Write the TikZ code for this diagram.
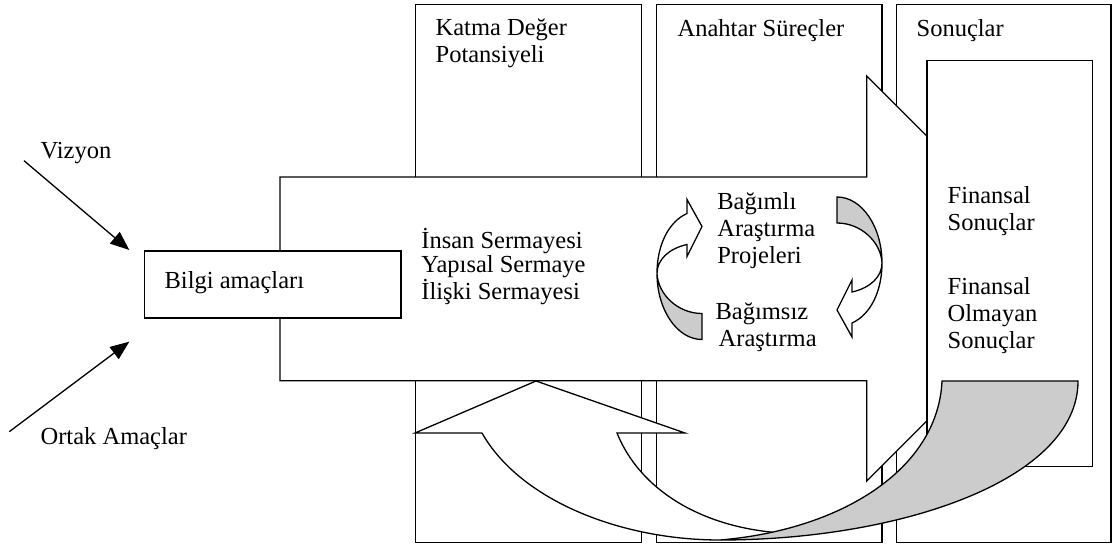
\documentclass[tikz,border=0pt]{standalone}
\usepackage{fontspec}
\setmainfont{Liberation Serif}
\usetikzlibrary{arrows.meta}
\definecolor{bandgray}{RGB}{204,204,204}
\begin{document}
\begin{tikzpicture}[x=1pt,y=-1pt,line width=1.3pt,line join=miter,
  box/.style={draw=black,fill=white,inner sep=0pt,outer sep=0pt,anchor=north west},
  lbl/.style={anchor=base west,inner sep=0pt,align=left,font=\fontsize{24.5}{27}\selectfont},
  feed/.style={-{Triangle[length=19pt,width=15pt]}},
  shade/.style={draw=black,fill=bandgray},
  plain/.style={draw=black,fill=white}]
\useasboundingbox (0,0) rectangle (1114,546);

% columns
\node[box,minimum width=226pt,minimum height=538pt] (col1) at (415.7,4.7) {};
\node[box,minimum width=225.3pt,minimum height=538pt] (col2) at (656.7,4.7) {};
\node[box,minimum width=214.3pt,minimum height=538pt] (col3) at (896.7,4.7) {};

% big arrow
\draw[plain] (280,177) -- (866.7,177) -- (866.7,76) -- (1069.5,278.5) -- (866.7,481)
  -- (866.7,380.7) -- (280,380.7) -- cycle;

% Bilgi box
\node[box,minimum width=256.7pt,minimum height=67pt] (bilgi) at (144.3,251) {};

% inner results box
\node[box,minimum width=165.3pt,minimum height=406pt] (inner) at (927,60.7) {};

% right circular arrow
\begin{scope}
\draw[shade] (837,197) .. controls (862,197) and (882,227) .. (882,263)
  .. controls (881,242) and (861,223) .. (837,223) -- cycle;
\draw[plain] (882,263) .. controls (882,292) and (870,315) .. (852,323) -- (852,337)
  -- (837,310) -- (852,280) -- (852,292) .. controls (870,288) and (882,277) .. (882,263) -- cycle;
\end{scope}
% left circular arrow (point reflection)
\begin{scope}[rotate around={180:(769.5,268.25)}]
\draw[shade] (837,197) .. controls (862,197) and (882,227) .. (882,263)
  .. controls (881,242) and (861,223) .. (837,223) -- cycle;
\draw[plain] (882,263) .. controls (882,292) and (870,315) .. (852,323) -- (852,337)
  -- (837,310) -- (852,280) -- (852,292) .. controls (870,288) and (882,277) .. (882,263) -- cycle;
\end{scope}

% bottom curved arrow
\fill[white] (415,433) -- (536,381) -- (685,433) -- (617,433)
  .. controls (640,490) and (700,525) .. (772.3,532.2) -- (760,538) -- (720,540)
  .. controls (620,540) and (520,500) .. (482,433) -- cycle;
\draw (482,433) -- (415,433) -- (536,381) -- (685,433) -- (617,433)
  .. controls (640,490) and (700,525) .. (772.3,532.2);
\draw (482,433) .. controls (520,500) and (620,540) .. (720,540);
\draw[shade] (720,540) .. controls (900,540) and (1078,480) .. (1078,381) -- (942,381)
  .. controls (938,470) and (840,530) .. (720,540) -- cycle;

% input arrows
\coordinate (vzstart) at (24,160.7);
\coordinate (vzend) at (129.3,250);
\coordinate (orstart) at (9.3,431.7);
\coordinate (orend) at (129.3,341.7);
\draw[feed] (vzstart) -- (vzend);
\draw[feed] (orstart) -- (orend);

% texts (multi-line nodes: base = last line)
\node[lbl] (vizyon) at (40,158) {Vizyon};
\node[lbl] (ortak) at (40,444) {Ortak Amaçlar};
\node[lbl] (bilgitxt) at (164,288) {Bilgi amaçları};
\node[lbl] (katma) at (435,62) {Katma Değer\\Potansiyeli};
\node[lbl] (anahtar) at (677,36) {Anahtar Süreçler};
\node[lbl] (sonuc) at (916,36) {Sonuçlar};
\node[lbl,font=\fontsize{24.5}{23.5}\selectfont] (sermaye) at (420.7,299) {İnsan Sermayesi\\Yapısal Sermaye\\İlişki Sermayesi};
\node[lbl] (bagimli) at (716.7,263) {Bağımlı\\Araştırma\\Projeleri};
\node[lbl] (bagimsiz) at (715,346) {Bağımsız\\\hspace{3pt}Araştırma};
\node[lbl] (fin1) at (947,230) {Finansal\\Sonuçlar};
\node[lbl] (fin2) at (947,348) {Finansal\\Olmayan\\Sonuçlar};
\end{tikzpicture}
\end{document}
